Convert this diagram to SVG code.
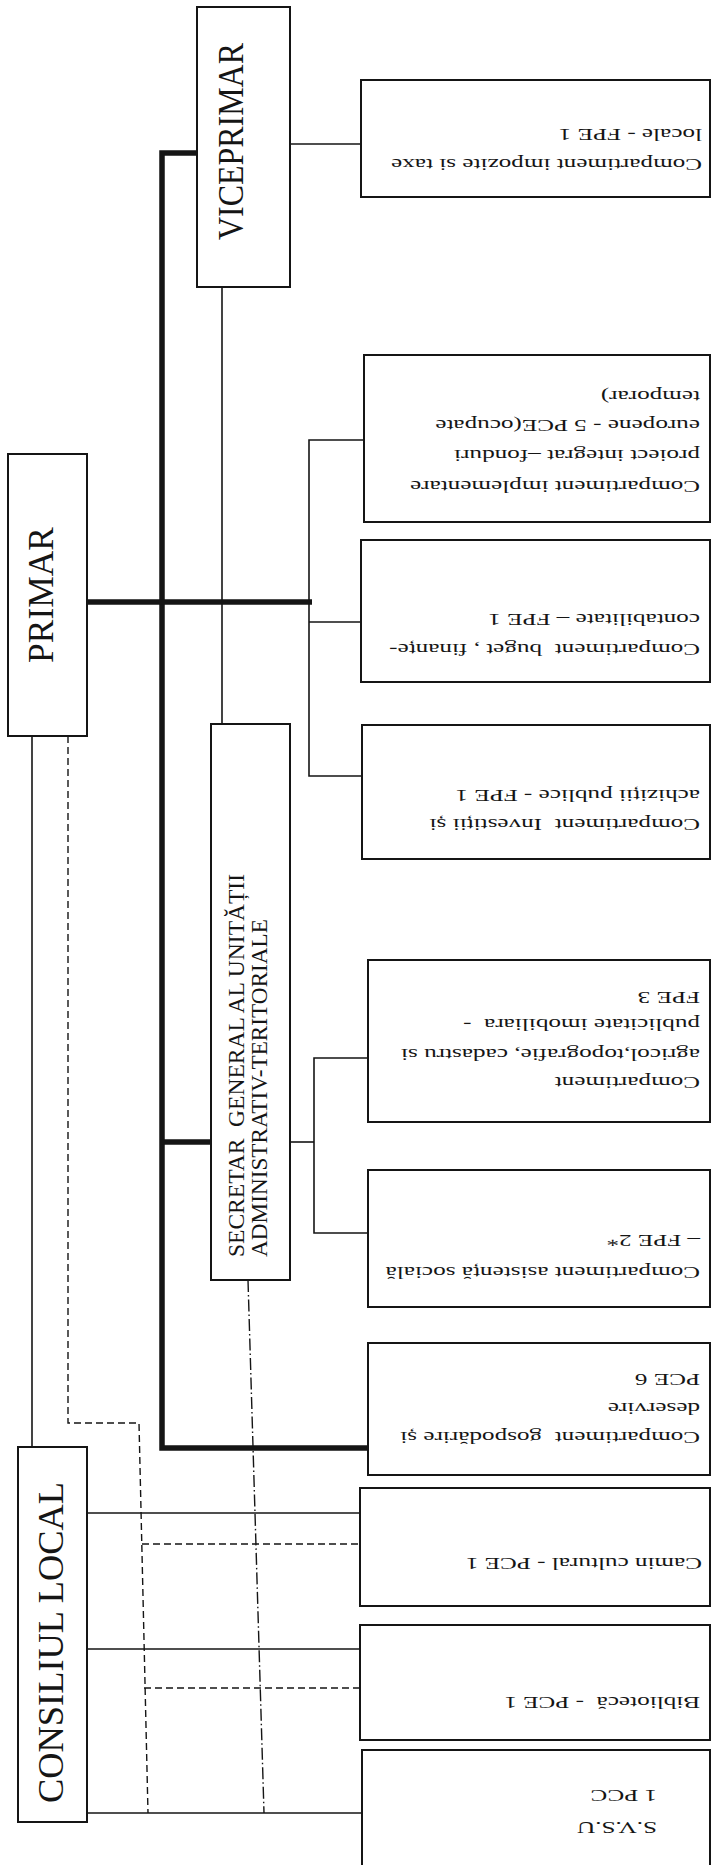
<svg xmlns="http://www.w3.org/2000/svg" width="712" height="1865" viewBox="0 0 712 1865">
<style>
.box{fill:#fff;stroke:#151515;stroke-width:2}
.hd{font-family:'Liberation Serif','Times New Roman',serif;fill:#151515}
.bt{font-family:'Liberation Serif','Times New Roman',serif;font-size:17px;fill:#151515;white-space:pre}
.thin{stroke:#151515;stroke-width:1.6;fill:none}
.thick{stroke:#151515;stroke-width:5.5;fill:none;stroke-linejoin:miter}
.dash{stroke:#151515;stroke-width:1.4;stroke-dasharray:7 4;fill:none}
.dashdot{stroke:#151515;stroke-width:1.4;stroke-dasharray:12 3 1.5 3;fill:none}
</style>
<rect width="712" height="1865" fill="#fff"/>
<g id="connectors">
  <path class="thick" d="M197,153 H162 V1448 H368"/>
  <path class="thick" d="M87,602 H312"/>
  <path class="thick" d="M162,1142 H211"/>
  <path class="thin" d="M290,144 H361"/>
  <path class="thin" d="M222,287 V724"/>
  <path class="thin" d="M364,440 H309 V776 H362"/>
  <path class="thin" d="M309,622 H361"/>
  <path class="thin" d="M290,1142 H314"/>
  <path class="thin" d="M368,1058 H314 V1233 H368"/>
  <path class="thin" d="M32,736 V1447"/>
  <path class="dash" d="M68,736 V1423 H139 L148,1813"/>
  <path class="dash" d="M142,1544 H360"/>
  <path class="dash" d="M144,1688 H360"/>
  <path class="thin" d="M87,1513 H360"/>
  <path class="thin" d="M87,1649 H360"/>
  <path class="thin" d="M87,1813 H362"/>
  <path class="dashdot" d="M248,1280 L264,1813"/>
</g>
<g id="viceprimar">
  <rect class="box" x="197" y="7" width="93" height="280"/>
  <text class="hd" font-size="35" transform="translate(243,240) rotate(-90)" textLength="197" lengthAdjust="spacingAndGlyphs">VICEPRIMAR</text>
</g>
<g id="primar">
  <rect class="box" x="8" y="454" width="79" height="282"/>
  <text class="hd" font-size="35" transform="translate(53,663) rotate(-90)" textLength="136" lengthAdjust="spacingAndGlyphs">PRIMAR</text>
</g>
<g id="consiliul-local">
  <rect class="box" x="18" y="1447" width="69" height="375"/>
  <text class="hd" font-size="36" transform="translate(63,1803) rotate(-90)" textLength="321" lengthAdjust="spacingAndGlyphs">CONSILIUL LOCAL</text>
</g>
<g id="secretar">
  <rect class="box" x="211" y="724" width="79" height="556"/>
  <text class="hd" font-size="23" transform="translate(244,1257) rotate(-90)" textLength="383" lengthAdjust="spacingAndGlyphs" style="white-space:pre">SECRETAR  GENERAL AL UNITĂȚII</text>
  <text class="hd" font-size="23" transform="translate(267,1257) rotate(-90)" textLength="338" lengthAdjust="spacingAndGlyphs">ADMINISTRATIV-TERITORIALE</text>
</g>
<g id="impozite">
  <rect class="box" x="361" y="80" width="349" height="117"/>
  <text class="bt" transform="translate(702,159) rotate(180) scale(1.48,1)">Compartiment impozite si taxe</text>
  <text class="bt" transform="translate(702,129) rotate(180) scale(1.48,1)">locale - FPE 1</text>
</g>
<g id="implementare">
  <rect class="box" x="364" y="355" width="346" height="167"/>
  <text class="bt" transform="translate(700,480.5) rotate(180) scale(1.48,1)">Compartiment implementare</text>
  <text class="bt" transform="translate(700,450) rotate(180) scale(1.48,1)">proiect integrat –fonduri</text>
  <text class="bt" transform="translate(700,420) rotate(180) scale(1.48,1)">europene - 5 PCE(ocupate</text>
  <text class="bt" transform="translate(700,391) rotate(180) scale(1.48,1)">temporar)</text>
</g>
<g id="buget">
  <rect class="box" x="361" y="540" width="349" height="142"/>
  <text class="bt" transform="translate(700,644) rotate(180) scale(1.48,1)">Compartiment  buget , finanțe-</text>
  <text class="bt" transform="translate(700,614) rotate(180) scale(1.48,1)">contabilitate – FPE 1</text>
</g>
<g id="investitii">
  <rect class="box" x="362" y="725" width="348" height="134"/>
  <text class="bt" transform="translate(700,819) rotate(180) scale(1.48,1)">Compartiment  Investiții și</text>
  <text class="bt" transform="translate(700,789.5) rotate(180) scale(1.48,1)">achiziții publice - FPE 1</text>
</g>
<g id="agricol">
  <rect class="box" x="368" y="960" width="342" height="162"/>
  <text class="bt" transform="translate(700,1077) rotate(180) scale(1.48,1)">Compartiment</text>
  <text class="bt" transform="translate(700,1049) rotate(180) scale(1.48,1)">agricol,topografie, cadastru si</text>
  <text class="bt" transform="translate(700,1019) rotate(180) scale(1.48,1)">publicitate imobiliara  -</text>
  <text class="bt" transform="translate(700,992) rotate(180) scale(1.48,1)">FPE 3</text>
</g>
<g id="asistenta">
  <rect class="box" x="368" y="1170" width="342" height="137"/>
  <text class="bt" transform="translate(700,1267) rotate(180) scale(1.48,1)">Compartiment asistență socială</text>
  <text class="bt" transform="translate(700,1235) rotate(180) scale(1.48,1)">– FPE 2*</text>
</g>
<g id="gospodarire">
  <rect class="box" x="368" y="1343" width="342" height="132"/>
  <text class="bt" transform="translate(700,1432) rotate(180) scale(1.48,1)">Compartiment  gospodărire și</text>
  <text class="bt" transform="translate(700,1403) rotate(180) scale(1.48,1)">deservire</text>
  <text class="bt" transform="translate(700,1374) rotate(180) scale(1.48,1)">PCE 6</text>
</g>
<g id="camin">
  <rect class="box" x="360" y="1488" width="350" height="118"/>
  <text class="bt" transform="translate(702,1558) rotate(180) scale(1.48,1)">Camin cultural - PCE 1</text>
</g>
<g id="biblioteca">
  <rect class="box" x="360" y="1625" width="350" height="115"/>
  <text class="bt" transform="translate(700,1697) rotate(180) scale(1.48,1)">Bibliotecă  - PCE 1</text>
</g>
<g id="svsu">
  <rect class="box" x="362" y="1750" width="348" height="130"/>
  <text class="bt" transform="translate(657,1822) rotate(180) scale(1.48,1)">S.V.S.U</text>
  <text class="bt" transform="translate(657,1790) rotate(180) scale(1.48,1)">1 PCC</text>
</g>
</svg>
